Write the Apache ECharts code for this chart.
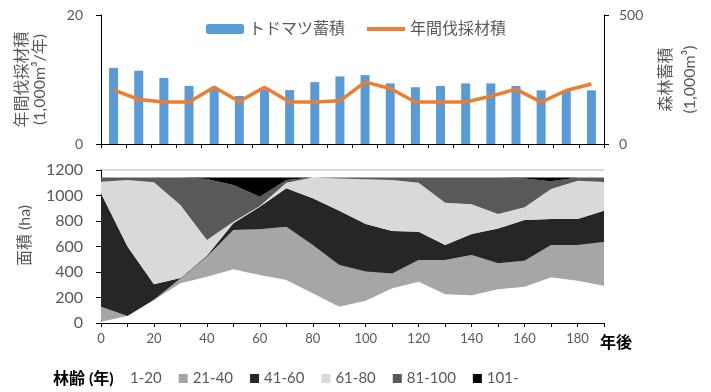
<!DOCTYPE html>
<html><head><meta charset="utf-8">
<script src="https://cdn.jsdelivr.net/npm/echarts@6/dist/echarts.min.js"></script>
<style>html,body{margin:0;padding:0;background:#fff}#c{width:711px;height:392px}</style>
</head><body><div id="c"></div>
<script>
// ---- data ----
const periods = ['1','2','3','4','5','6','7','8','9','10','11','12','13','14','15','16','17','18','19','20'];
const stockVolume = [295, 284, 256, 225, 218, 186, 211, 209, 240, 262, 267, 235, 220, 225, 235, 235, 225, 208, 205, 208];
const annualHarvest = [8.4, 6.9, 6.5, 6.5, 8.8, 6.6, 8.8, 6.5, 6.5, 6.7, 9.6, 8.6, 6.5, 6.5, 6.5, 7.4, 8.5, 6.5, 8.3, 9.3];

const years = ['0','10','20','30','40','50','60','70','80','90','100','110','120','130','140','150','160','170','180','190'];
const age1_20   = [10, 55, 180, 311, 363, 421, 376, 337, 233, 128, 175, 272, 324, 225, 217, 264, 285, 358, 332, 293];
const age21_40  = [118, 0, 2, 39, 157, 308, 359, 418, 379, 327, 228, 117, 170, 269, 316, 204, 204, 254, 280, 342];
const age41_60  = [889, 545, 121, 2, 8, 53, 177, 301, 366, 426, 373, 332, 222, 118, 165, 274, 319, 204, 204, 246];
const age61_80  = [91, 521, 800, 573, 123, 13, 6, 44, 164, 253, 351, 400, 384, 332, 233, 113, 99, 235, 300, 225];
const age81_100 = [34, 21, 39, 217, 478, 287, 73, 21, 0, 8, 15, 21, 42, 198, 211, 287, 227, 61, 26, 36];
const age101    = [0, 0, 0, 0, 13, 60, 151, 21, 0, 0, 0, 0, 0, 0, 0, 0, 8, 30, 0, 0];

const ageNames = ['1-20','21-40','41-60','61-80','81-100','101-'];
const ageSeries = [age1_20, age21_40, age41_60, age61_80, age81_100, age101];
const ageColors = ['#ffffff','#a6a6a6','#262626','#d9d9d9','#595959','#000000'];

// ---- chart ----
const FF = 'Lato, "Noto Sans CJK JP", sans-serif';
const GRAY = '#595959';
const chart = echarts.init(document.getElementById('c'), null, {renderer:'canvas'});

const axisLineBlack = {show:true, lineStyle:{color:'#000', width:1}};
const plain = v => String(v);

const option = {
  animation:false,
  textStyle:{fontFamily:FF},
  title:{text:'林齢 (年)', left:48, top:366, padding:5,
    textStyle:{fontSize:16, fontWeight:'bold', color:'#000', fontFamily:FF}},
  legend:[
    {data:[{name:'トドマツ蓄積'}, {name:'年間伐採材積', icon:'path://M0,0H38V4H0Z'}],
     left:201, top:16, itemWidth:38, itemHeight:10, itemGap:22,
     textStyle:{fontSize:16, color:GRAY, fontFamily:FF}},
    {data:ageNames.map((n,i)=> i===0 ? {name:n, itemStyle:{opacity:0}} : {name:n}),
     left:111, top:366, itemWidth:9, itemHeight:9, itemGap:17, icon:'rect',
     textStyle:{fontSize:15, color:GRAY, fontFamily:FF}}
  ],
  grid:[
    {left:101, right:107, top:15, height:129},
    {left:101, right:107, top:170, height:153}
  ],
  xAxis:[
    {type:'category', gridIndex:0, data:periods, boundaryGap:true,
     axisLine:axisLineBlack, axisTick:{show:true, length:4, lineStyle:{color:'#000'}},
     axisLabel:{show:false}, splitLine:{show:false}},
    {type:'category', gridIndex:1, data:years, boundaryGap:false,
     axisLine:axisLineBlack, axisTick:{show:true, length:4, interval:0, lineStyle:{color:'#000'}},
     axisLabel:{fontSize:13, color:GRAY, margin:9, interval:1},
     splitLine:{show:false},
     name:'年後', nameLocation:'end', nameGap:0,
     nameTextStyle:{fontSize:16, fontWeight:'bold', color:'#000', align:'left', verticalAlign:'top', padding:[12,0,0,-4]}}
  ],
  yAxis:[
    {type:'value', gridIndex:0, min:0, max:20, interval:20, position:'left',
     axisLine:axisLineBlack, axisTick:{show:true, length:5, lineStyle:{color:'#000'}},
     axisLabel:{fontSize:14, color:GRAY, margin:18, formatter:plain}, splitLine:{show:false},
     name:'年間伐採材積\n(1,000m³/年)', nameLocation:'middle', nameRotate:90, nameGap:52,
     nameTextStyle:{fontSize:16, color:GRAY, lineHeight:18}},
    {type:'value', gridIndex:0, min:0, max:500, interval:500, position:'right',
     axisLine:axisLineBlack, axisTick:{show:true, length:5, lineStyle:{color:'#000'}},
     axisLabel:{fontSize:14, color:GRAY, margin:15, formatter:plain}, splitLine:{show:false},
     name:'森林蓄積\n(1,000m³)', nameLocation:'middle', nameRotate:90, nameGap:48,
     nameTextStyle:{fontSize:16, color:GRAY, lineHeight:24}},
    {type:'value', gridIndex:1, min:0, max:1200, interval:200,
     axisLine:axisLineBlack, axisTick:{show:true, length:5, lineStyle:{color:'#000'}},
     axisLabel:{fontSize:16, color:GRAY, margin:18, formatter:plain},
     splitLine:{show:true, lineStyle:{color:'#d9d9d9', width:2}},
     name:'面積 (ha)', nameLocation:'middle', nameRotate:90, nameGap:68,
     nameTextStyle:{fontSize:16, color:GRAY, padding:[0,0,0,22]}}
  ],
  series:[
    {name:'トドマツ蓄積', type:'bar', xAxisIndex:0, yAxisIndex:1, data:stockVolume,
     barWidth:9, itemStyle:{color:'#5b9bd5'}, z:2},
    {name:'年間伐採材積', type:'line', xAxisIndex:0, yAxisIndex:0, data:annualHarvest,
     symbol:'none', lineStyle:{color:'#ed7d31', width:3.5}, itemStyle:{color:'#ed7d31'}, z:3},
    ...ageNames.map((n,i)=>({
      name:n, type:'line', xAxisIndex:1, yAxisIndex:2, stack:'age',
      data: ageSeries[i],
      symbol:'none', lineStyle:{width:0}, color:ageColors[i],
      itemStyle:{color:ageColors[i]},
      areaStyle:{color:ageColors[i], opacity:1}
    }))
  ]
};
chart.setOption(option);
</script>
</body></html>
